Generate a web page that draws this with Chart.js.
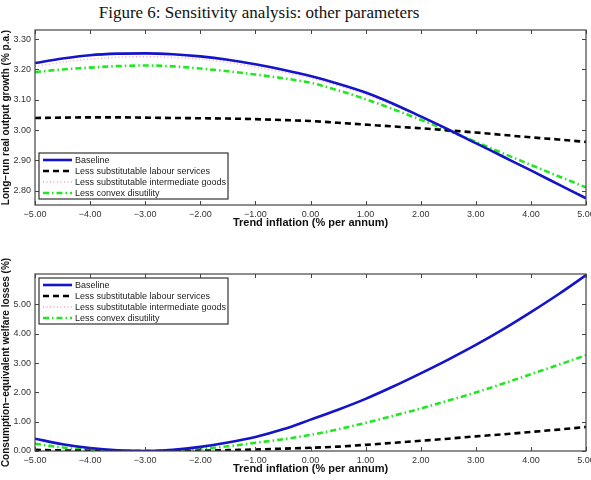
<!DOCTYPE html>
<html>
<head>
<meta charset="utf-8">
<script src="https://cdn.jsdelivr.net/npm/chart.js@4.4.0/dist/chart.umd.min.js"></script>
<style>
  body { margin: 0; background: #fff; }
  #title { position: absolute; left: 0; top: 3px; width: 518px; text-align: center;
           font: 17px 'Liberation Serif', serif; color: #111; }
  .box { position: absolute; left: 0; width: 591px; }
</style>
</head>
<body>
<div id="title">Figure 6: Sensitivity analysis: other parameters</div>
<div class="box" style="top:0"><canvas id="growth" width="591" height="230"></canvas></div>
<div class="box" style="top:245px"><canvas id="welfare" width="591" height="231"></canvas></div>
<script>
// trend inflation, % per annum
const inflation = [-5, -4.5, -4, -3.5, -3, -2.5, -2, -1.5, -1, -0.5, 0, 0.5, 1, 1.5, 2, 2.5, 3, 3.5, 4, 4.5, 5];
const xTicks = [-5, -4, -3, -2, -1, 0, 1, 2, 3, 4, 5];

// top panel: long-run real output growth (% p.a.)
const growthBaseline = [3.221, 3.236, 3.247, 3.252, 3.253, 3.250, 3.243, 3.232, 3.217, 3.199, 3.178, 3.153, 3.124, 3.087, 3.045, 3.002, 2.957, 2.912, 2.867, 2.821, 2.775];
const growthLabour = [3.040, 3.041, 3.042, 3.042, 3.041, 3.040, 3.039, 3.038, 3.036, 3.033, 3.030, 3.024, 3.018, 3.012, 3.006, 2.999, 2.992, 2.984, 2.976, 2.969, 2.961];
const growthGoods = [3.210, 3.224, 3.234, 3.240, 3.242, 3.240, 3.234, 3.223, 3.208, 3.191, 3.171, 3.147, 3.118, 3.082, 3.041, 2.999, 2.956, 2.913, 2.869, 2.824, 2.779];
const growthDisutility = [3.191, 3.200, 3.206, 3.211, 3.213, 3.210, 3.203, 3.194, 3.183, 3.171, 3.156, 3.131, 3.102, 3.069, 3.034, 2.998, 2.961, 2.923, 2.885, 2.848, 2.811];
const growthTicks = [2.8, 2.9, 3.0, 3.1, 3.2, 3.3];

// bottom panel: consumption-equivalent welfare losses (%)
const welfareBaseline = [0.42, 0.23, 0.10, 0.025, 0.00, 0.04, 0.14, 0.29, 0.48, 0.74, 1.07, 1.41, 1.78, 2.20, 2.65, 3.12, 3.62, 4.16, 4.74, 5.35, 6.00];
const welfareLabour = [0.04, 0.02, 0.01, 0.00, 0.00, 0.00, 0.01, 0.03, 0.05, 0.08, 0.11, 0.15, 0.21, 0.28, 0.35, 0.42, 0.50, 0.57, 0.65, 0.73, 0.82];
const welfareGoods = [0.41, 0.22, 0.10, 0.02, 0.00, 0.04, 0.14, 0.28, 0.47, 0.73, 1.06, 1.40, 1.77, 2.19, 2.64, 3.11, 3.61, 4.15, 4.73, 5.34, 5.99];
const welfareDisutility = [0.25, 0.12, 0.04, 0.005, 0.00, 0.02, 0.07, 0.16, 0.28, 0.40, 0.55, 0.74, 0.96, 1.20, 1.45, 1.72, 2.00, 2.30, 2.62, 2.94, 3.27];
const welfareTicks = [0, 1, 2, 3, 4, 5];

const seriesNames = ['Baseline', 'Less substitutable labour services', 'Less substitutable intermediate goods', 'Less convex disutility'];
const styles = [
  { borderColor: '#1414c8', borderWidth: 2.6, borderDash: [] },
  { borderColor: '#000000', borderWidth: 2.6, borderDash: [6, 4] },
  { borderColor: '#ff9fb4', borderWidth: 1.4, borderDash: [1, 2.5] },
  { borderColor: '#22e622', borderWidth: 2.6, borderDash: [6, 3, 1.5, 3] },
];

const FONT = "'Liberation Sans', Arial, sans-serif";
const fmt = v => (v < 0 ? '\u2212' : '') + Math.abs(v).toFixed(2);

const framePlugin = {
  id: 'frame',
  afterDatasetsDraw(chart) {
    const { ctx, chartArea: a, scales: { x, y } } = chart;
    ctx.save();
    ctx.strokeStyle = '#444';
    ctx.lineWidth = 1;
    ctx.beginPath();
    x.ticks.forEach(t => {
      const px = Math.round(x.getPixelForValue(t.value)) + 0.5;
      ctx.moveTo(px, a.bottom); ctx.lineTo(px, a.bottom - 4);
      ctx.moveTo(px, a.top); ctx.lineTo(px, a.top + 4);
    });
    y.ticks.forEach(t => {
      const py = Math.round(y.getPixelForValue(t.value)) + 0.5;
      ctx.moveTo(a.left, py); ctx.lineTo(a.left + 4, py);
      ctx.moveTo(a.right, py); ctx.lineTo(a.right - 4, py);
    });
    ctx.stroke();
    ctx.lineWidth = 1.2;
    ctx.strokeRect(a.left, a.top, a.right - a.left, a.bottom - a.top);
    ctx.restore();
  }
};

const legendPlugin = {
  id: 'boxLegend',
  afterDraw(chart, args, opts) {
    const { ctx, chartArea: a } = chart;
    const w = 189, h = 46, rowH = 11;
    const left = a.left + 4;
    const top = opts.where === 'bottom' ? a.bottom - 6 - h : a.top + 4;
    ctx.save();
    ctx.fillStyle = '#fff';
    ctx.fillRect(left, top, w, h);
    ctx.strokeStyle = '#333';
    ctx.lineWidth = 1.2;
    ctx.strokeRect(left, top, w, h);
    ctx.font = '9px ' + FONT;
    ctx.textBaseline = 'middle';
    chart.data.datasets.forEach((ds, i) => {
      const cy = top + 7 + i * rowH;
      ctx.strokeStyle = ds.borderColor;
      ctx.lineWidth = ds.borderWidth;
      ctx.setLineDash(ds.borderDash);
      ctx.beginPath();
      ctx.moveTo(left + 4, cy);
      ctx.lineTo(left + 33, cy);
      ctx.stroke();
      ctx.setLineDash([]);
      ctx.fillStyle = '#222';
      ctx.fillText(ds.label, left + 36, cy + 0.5);
    });
    ctx.restore();
  }
};

function makeChart(id, series, yMin, yMax, yTicks, yTitle, legendWhere, padTop) {
  const datasets = series.map((vals, i) => ({
    label: seriesNames[i],
    data: inflation.map((x, k) => ({ x: x, y: vals[k] })),
    borderColor: styles[i].borderColor,
    borderWidth: styles[i].borderWidth,
    borderDash: styles[i].borderDash,
    pointRadius: 0,
    cubicInterpolationMode: 'monotone',
    fill: false,
  }));
  return new Chart(document.getElementById(id), {
    type: 'line',
    data: { datasets: datasets },
    options: {
      responsive: false,
      animation: false,
      layout: { autoPadding: false, padding: { top: padTop, right: 5, left: 0, bottom: 0 } },
      plugins: {
        legend: { display: false },
        tooltip: { enabled: false },
        boxLegend: { where: legendWhere },
      },
      scales: {
        x: {
          type: 'linear', min: -5, max: 5,
          afterBuildTicks: s => { s.ticks = xTicks.map(v => ({ value: v })); },
          afterFit: s => { s.height = 25; s.paddingLeft = 0; s.paddingRight = 0; },
          grid: { display: false, drawTicks: false, tickLength: 0 },
          border: { display: false },
          ticks: { callback: fmt, color: '#333', font: { family: FONT, size: 9 }, padding: 4, maxRotation: 0 },
          title: { display: true, text: 'Trend inflation (% per annum)', color: '#111',
                   font: { family: FONT, size: 11, weight: 'bold' }, padding: { top: 0, bottom: 0 } },
        },
        y: {
          type: 'linear', min: yMin, max: yMax,
          afterBuildTicks: s => { s.ticks = yTicks.map(v => ({ value: v })); },
          afterFit: s => { s.width = 35; s.paddingTop = 0; s.paddingBottom = 0; },
          grid: { display: false, drawTicks: false, tickLength: 0 },
          border: { display: false },
          ticks: { callback: fmt, color: '#333', font: { family: FONT, size: 9 }, padding: 4 },
          title: { display: true, text: yTitle, color: '#111',
                   font: { family: FONT, size: 10, weight: 'bold' }, padding: { top: 0, bottom: 0 } },
        },
      },
    },
    plugins: [framePlugin, legendPlugin],
  });
}

makeChart('growth', [growthBaseline, growthLabour, growthGoods, growthDisutility],
  2.753, 3.33, growthTicks, 'Long\u2212run real output growth (% p.a.)', 'bottom', 30);
makeChart('welfare', [welfareBaseline, welfareLabour, welfareGoods, welfareDisutility],
  0, 6.04, welfareTicks, 'Consumption\u2212equivalent welfare losses (%)', 'top', 29);
</script>
</body>
</html>
